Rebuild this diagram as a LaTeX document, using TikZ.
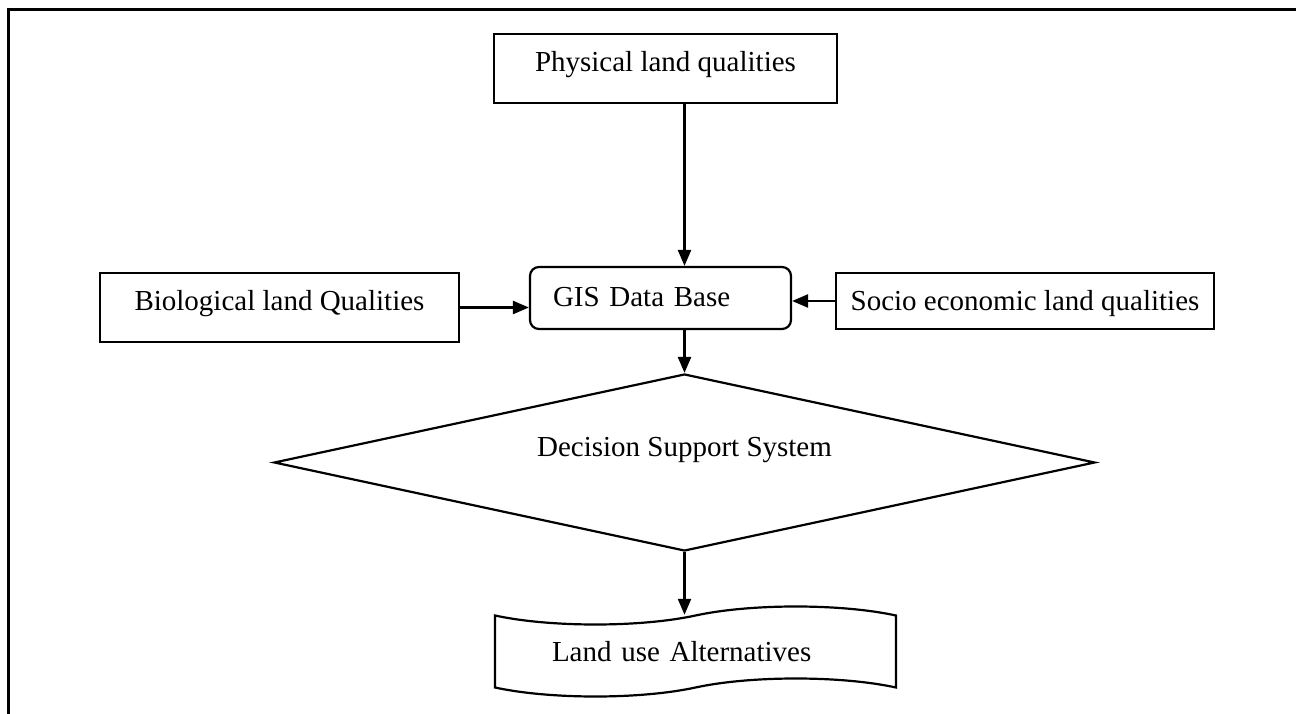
\documentclass[tikz,border=0pt]{standalone}
\usepackage{fontspec}
\setmainfont{Liberation Serif}
\usetikzlibrary{shapes.geometric, shapes.symbols, arrows.meta}

\begin{document}
\begin{tikzpicture}[x=1pt, y=1pt,
          every node/.style = {font=\fontsize{29pt}{34pt}\selectfont, text height=20pt, inner sep=0pt},
          box/.style = {draw, line width=2.2pt, rectangle, minimum height=69pt},
          rbox/.style = {draw, line width=2.2pt, rectangle, rounded corners=9pt, minimum height=62pt},
          dec/.style = {draw, line width=2.2pt, diamond, aspect=4.6, minimum width=821pt, minimum height=177pt},
          doc/.style = {draw, line width=2.2pt, tape, tape bend height=18pt, minimum width=401pt, minimum height=90pt},
          arr/.style = {line width=2.4pt, -{Triangle[length=16pt, width=13pt]}}]
        \useasboundingbox (0,0) rectangle (1296,713);
        \draw[line width=3pt] (8,-5) -- (8,703) -- (1301,703);
        \node[rbox, text width=215pt, inner xsep=23pt, align=left, text depth=3pt] (gis) at (660.5,415) {GIS Data Base};
        \node[box, minimum width=343pt, text depth=13pt] (phys) [above of=gis, node distance=229.5pt, xshift=5pt] {Physical land qualities};
        \node[box, minimum width=359pt, text depth=13pt] (bio) [left of=gis, node distance=381pt, yshift=-9.5pt] {Biological land Qualities};
        \node[box, minimum width=378pt, minimum height=56pt, text depth=0pt] (socio) [right of=gis, node distance=364.5pt, yshift=-3pt] {Socio economic land qualities};
        \node[dec, text depth=31pt] (dss) [below of=gis, node distance=164.5pt, xshift=24pt] {Decision Support System};
        \node[doc, text width=287pt, inner xsep=57pt, align=left, text depth=0pt] (land) [below of=dss, node distance=189pt, xshift=11pt] {Land use Alternatives};
        \draw[arr] (phys.south -| dss.north) -- (gis.north -| dss.north);
        \draw[arr] (bio.east) -- (bio.east -| gis.west);
        \draw[arr] (socio.west) -- (socio.west -| gis.east);
        \draw[arr] (gis.south -| dss.north) -- (dss.north);
        \draw[arr] (dss.south) -- (land.north -| dss.south);
      \end{tikzpicture}
\end{document}
